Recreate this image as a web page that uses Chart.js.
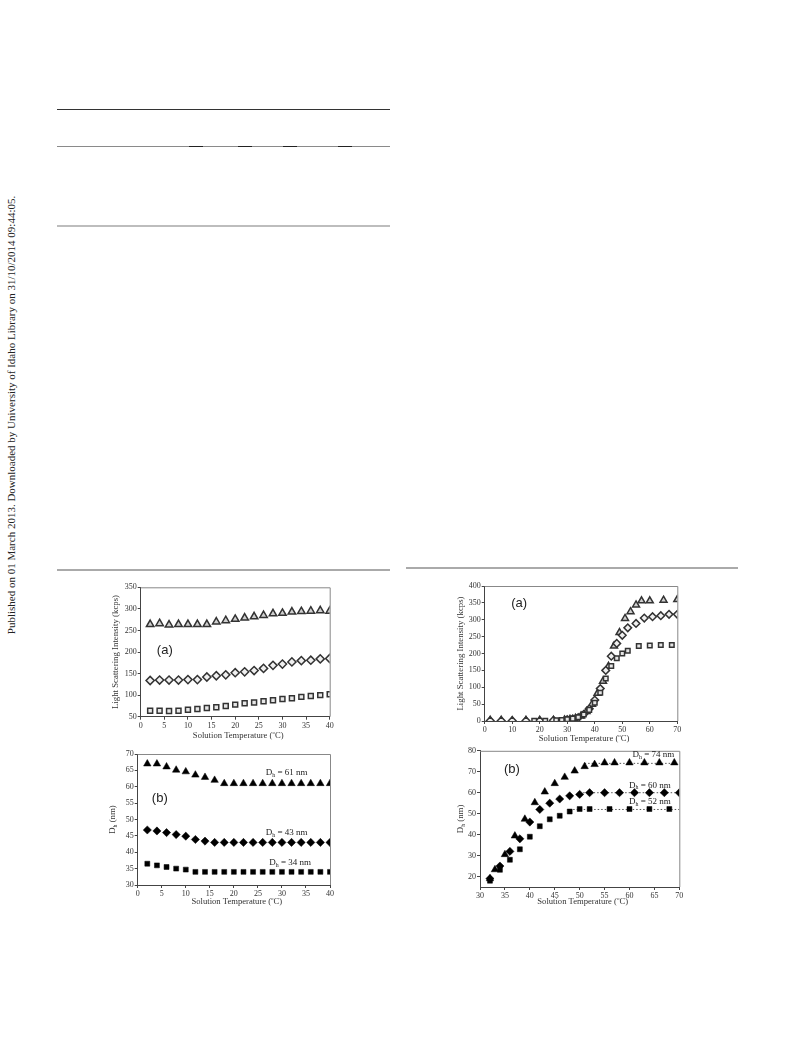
<!DOCTYPE html>
<html>
<head>
<meta charset="utf-8">
<script src="https://cdn.jsdelivr.net/npm/chart.js@4.4.0/dist/chart.umd.min.js"></script>
<style>
  body { margin: 0; width: 793px; height: 1039px; position: relative; background: #fff; overflow: hidden; font-family: "Liberation Serif", serif; }
  .rule { position: absolute; }
  canvas { position: absolute; }
  #side { position: absolute; left: 11px; top: 415px; transform: translate(-50%, -50%) rotate(-90deg); white-space: nowrap; font-size: 11px; color: #222; }
</style>
</head>
<body>
<div class="rule" style="left:57px; top:109px; width:333px; height:1px; background:#333;"></div>
<div class="rule" style="left:57px; top:146px; width:333px; height:1px; background:#8a8a8a;"></div>
<div class="rule" style="left:189px; top:146px; width:14px; height:1px; background:#222;"></div>
<div class="rule" style="left:238px; top:146px; width:14px; height:1px; background:#222;"></div>
<div class="rule" style="left:283px; top:146px; width:14px; height:1px; background:#222;"></div>
<div class="rule" style="left:338px; top:146px; width:14px; height:1px; background:#222;"></div>
<div class="rule" style="left:57px; top:225px; width:333px; height:2px; background:#bdbdbd;"></div>
<div class="rule" style="left:57px; top:569px; width:333px; height:2px; background:#aaa;"></div>
<div class="rule" style="left:406px; top:567px; width:332px; height:2px; background:#aaa;"></div>
<div id="side">Published on 01 March 2013. Downloaded by University of Idaho Library on 31/10/2014 09:44:05.</div>

<canvas id="c1" width="245" height="170" style="left:95px; top:578px;"></canvas>
<canvas id="c2" width="245" height="170" style="left:95px; top:745px;"></canvas>
<canvas id="c3" width="250" height="170" style="left:440px; top:576px;"></canvas>
<canvas id="c4" width="250" height="170" style="left:440px; top:745px;"></canvas>

<script>
// ---- left figure: 2-40 C ----
var tempLow = [2, 4, 6, 8, 10, 12, 14, 16, 18, 20, 22, 24, 26, 28, 30, 32, 34, 36, 38, 40];
var lsTriLow = [264, 266, 263, 264, 264, 264, 264, 270, 273, 276, 279, 282, 285, 289, 290, 293, 294, 295, 296, 295];
var lsDiaLow = [134, 135, 135, 135, 136, 136, 142, 145, 147, 152, 154, 157, 162, 169, 172, 177, 180, 181, 184, 185];
var lsSqLow  = [64, 64, 63, 64, 66, 68, 70, 72, 75, 78, 81, 83, 86, 88, 91, 93, 96, 98, 100, 102];
var dhTriLow = [67, 67, 66.1, 65.1, 64.6, 63.6, 62.9, 62, 61, 61, 61, 61, 61, 61, 61, 61, 61, 61, 61, 61];
var dhDiaLow = [46.8, 46.5, 46, 45.4, 44.9, 43.9, 43.4, 43, 43, 43, 43, 43, 43, 43, 43, 43, 43, 43, 43, 43];
var dhSqLow  = [36.5, 36, 35.5, 35, 34.7, 34, 34, 34, 34, 34, 34, 34, 34, 34, 34, 34, 34, 34, 34, 34];
var dhLow = [61, 43, 34];

// ---- right figure: heating to 70 C ----
var tTriHigh = [2, 6, 10, 15, 20, 25, 29, 31, 33, 35, 37, 39, 41, 43, 45, 47, 49, 51, 53, 55, 57, 60, 65, 70];
var lsTriHigh = [2, 2, 1, 2, 2, 2, 3, 5, 8, 15, 28, 50, 82, 118, 162, 222, 262, 304, 324, 344, 356, 356, 358, 360];
var tDiaHigh = [2, 6, 10, 15, 20, 25, 30, 32, 34, 36, 38, 40, 42, 44, 46, 48, 50, 52, 55, 58, 61, 64, 67, 70];
var lsDiaHigh = [1, 1, 1, 1, 1, 2, 4, 6, 10, 20, 36, 62, 96, 150, 192, 230, 254, 276, 289, 305, 309, 312, 316, 316];
var tSqHigh = [18, 22, 26, 28, 30, 32, 34, 36, 38, 40, 42, 44, 46, 48, 50, 52, 56, 60, 64, 68];
var lsSqHigh = [1, 1, 2, 3, 5, 7, 11, 19, 33, 54, 84, 126, 163, 186, 200, 208, 222, 224, 225, 225];

var tDhTri = [32, 33, 35, 37, 39, 41, 43, 45, 47, 49, 51, 53, 55, 57, 60, 63, 66, 69];
var dhTriHigh = [19, 23.3, 30.5, 39.4, 47.4, 55.3, 60.4, 64.4, 67.4, 70.4, 72.5, 73.5, 74.3, 74.3, 74.3, 74.3, 74.3, 74.3];
var tDhDia = [32, 34, 36, 38, 40, 42, 44, 46, 48, 50, 52, 55, 58, 61, 64, 67, 70];
var dhDiaHigh = [19, 25, 32, 38, 46, 52, 55, 57, 58.5, 59.2, 60, 60, 60, 60, 60, 60, 60];
var tDhSq = [32, 34, 36, 38, 40, 42, 44, 46, 48, 50, 52, 56, 60, 64, 68];
var dhSqHigh = [18, 23.2, 28, 33, 39, 44, 47.3, 49, 51, 52.2, 52.2, 52.2, 52.2, 52.2, 52.2];
var dhHigh = [74, 60, 52];
var plateauFrom = [51, 50, 48];

var ticksT40 = [0, 5, 10, 15, 20, 25, 30, 35, 40];
var ticksLs350 = [50, 100, 150, 200, 250, 300, 350];
var ticksDh70 = [30, 35, 40, 45, 50, 55, 60, 65, 70];
var ticksT70 = [0, 10, 20, 30, 40, 50, 60, 70];
var ticksLs400 = [0, 50, 100, 150, 200, 250, 300, 350, 400];
var ticksT3070 = [30, 35, 40, 45, 50, 55, 60, 65, 70];
var ticksDh80 = [20, 30, 40, 50, 60, 70, 80];

var SERIF = '"Liberation Serif", "Times New Roman", serif';

function pts(xs, ys) { return xs.map(function (x, i) { return { x: x, y: ys[i] }; }); }

function drawRich(ctx, parts, x, y) {
  var w = 0;
  parts.forEach(function (p) { ctx.font = p.size + 'px ' + SERIF; w += ctx.measureText(p.t).width; });
  var cx = x - w / 2;
  ctx.textBaseline = 'middle';
  ctx.textAlign = 'left';
  parts.forEach(function (p) {
    ctx.font = p.size + 'px ' + SERIF;
    ctx.fillText(p.t, cx, y + (p.dy || 0));
    cx += ctx.measureText(p.t).width;
  });
}
function dhParts(rest, size) {
  return [{ t: 'D', size: size }, { t: 'h', size: size * 0.65, dy: size * 0.3 }, { t: rest, size: size }];
}

var decor = {
  id: 'decor',
  afterDraw: function (chart, args, o) {
    var ctx = chart.ctx, a = chart.chartArea, sx = chart.scales.x, sy = chart.scales.y;
    ctx.save();
    ctx.strokeStyle = '#888';
    ctx.lineWidth = 1;
    ctx.beginPath();
    ctx.moveTo(a.left, a.top + 0.5);
    ctx.lineTo(a.right + 0.5, a.top + 0.5);
    ctx.lineTo(a.right + 0.5, a.bottom);
    ctx.stroke();
    ctx.fillStyle = '#333';
    drawRich(ctx, [{ t: 'Solution Temperature (', size: 8.6 }, { t: 'o', size: 5, dy: -3 }, { t: 'C)', size: 8.6 }],
      (a.left + a.right) / 2 + 3, a.bottom + o.xTitleGap);
    ctx.save();
    ctx.translate(a.left - o.yTitleGap, (a.top + a.bottom) / 2);
    ctx.rotate(-Math.PI / 2);
    drawRich(ctx, o.yTitle, 0, 0);
    ctx.restore();
    ctx.fillStyle = '#222';
    ctx.font = '13px "Liberation Sans", Arial, sans-serif';
    ctx.textAlign = 'center';
    ctx.textBaseline = 'middle';
    ctx.fillText(o.panel.text, sx.getPixelForValue(o.panel.x), sy.getPixelForValue(o.panel.y));
    (o.notes || []).forEach(function (n) {
      ctx.fillStyle = '#222';
      drawRich(ctx, dhParts(' = ' + n.v + ' nm', 9), sx.getPixelForValue(n.x), sy.getPixelForValue(n.y));
    });
    ctx.restore();
  }
};

function makeChart(id, c) {
  var axis = function (min, max, ticks, isX) {
    return {
      type: 'linear', min: min, max: max,
      afterBuildTicks: function (s) { s.ticks = ticks.map(function (v) { return { value: v }; }); },
      afterFit: function (s) { if (isX) s.height = c.xH; else s.width = c.yW; },
      grid: { drawOnChartArea: false, drawTicks: true, tickLength: 3, color: '#444' },
      border: { color: '#444', width: 1 },
      ticks: { font: { family: SERIF, size: 8 }, color: '#333', padding: 1, maxRotation: 0, autoSkip: false }
    };
  };
  return new Chart(document.getElementById(id).getContext('2d'), {
    type: 'scatter',
    data: { datasets: c.datasets },
    options: {
      responsive: false, animation: false,
      layout: { autoPadding: false, padding: { top: c.padT, right: c.padR, left: 0, bottom: 0 } },
      plugins: { legend: { display: false }, tooltip: { enabled: false }, decor: c.decor },
      scales: { x: axis(c.x[0], c.x[1], c.xt, true), y: axis(c.y[0], c.y[1], c.yt, false) }
    },
    plugins: [decor]
  });
}

function openSet(xs, ys, style, r, fill) {
  return { data: pts(xs, ys), pointStyle: style, pointRadius: r, backgroundColor: fill, borderColor: '#333', borderWidth: 1.5, order: 0 };
}
function solidSet(xs, ys, style, r) {
  return { data: pts(xs, ys), pointStyle: style, pointRadius: r, backgroundColor: '#000', borderColor: '#000', borderWidth: 0.5, order: 0 };
}

var lsTitle = [{ t: 'Light Scattering Intensity (kcps)', size: 8.8 }];
var dhTitle = dhParts(' (nm)', 8.8);

makeChart('c1', {
  x: [0, 40], y: [50, 350], xt: ticksT40, yt: ticksLs350,
  padT: 9.3, padR: 10.3, yW: 45.7, xH: 31.3,
  datasets: [
    openSet(tempLow, lsTriLow, 'triangle', 4.3, '#cfcfcf'),
    openSet(tempLow, lsDiaLow, 'rectRot', 4.1, '#f0f0f0'),
    openSet(tempLow, lsSqLow, 'rect', 3.5, '#e6e6e6')
  ],
  decor: { xTitleGap: 19, yTitleGap: 25, yTitle: lsTitle, panel: { text: '(a)', x: 5.1, y: 203 } }
});

makeChart('c2', {
  x: [0, 40], y: [30, 70], xt: ticksT40, yt: ticksDh70,
  padT: 9, padR: 10, yW: 42.7, xH: 30,
  datasets: [
    solidSet(tempLow, dhTriLow, 'triangle', 4.3),
    solidSet(tempLow, dhDiaLow, 'rectRot', 4.1),
    solidSet(tempLow, dhSqLow, 'rect', 3.5)
  ],
  decor: {
    xTitleGap: 17, yTitleGap: 25, yTitle: dhTitle, panel: { text: '(b)', x: 4.6, y: 56.5 },
    notes: [{ v: dhLow[0], x: 31, y: 64.3 }, { v: dhLow[1], x: 31, y: 46.1 }, { v: dhLow[2], x: 31.7, y: 36.9 }]
  }
});

makeChart('c3', {
  x: [0, 70], y: [0, 400], xt: ticksT70, yt: ticksLs400,
  padT: 10, padR: 12.7, yW: 44.7, xH: 25,
  datasets: [
    openSet(tSqHigh, lsSqHigh, 'rect', 3.2, '#e6e6e6'),
    openSet(tDiaHigh, lsDiaHigh, 'rectRot', 3.8, '#f0f0f0'),
    openSet(tTriHigh, lsTriHigh, 'triangle', 4, '#cfcfcf')
  ],
  decor: { xTitleGap: 17.5, yTitleGap: 24, yTitle: lsTitle, panel: { text: '(a)', x: 12.5, y: 349 } }
});

function plateau(i) {
  return { data: pts([plateauFrom[i], 70], [dhHigh[i], dhHigh[i]]), showLine: true, pointRadius: 0,
    borderColor: '#555', borderWidth: 1, borderDash: [1.5, 2], order: 1 };
}

makeChart('c4', {
  x: [30, 70], y: [15, 80], xt: ticksT3070, yt: ticksDh80,
  padT: 5.7, padR: 10.7, yW: 40, xH: 28,
  datasets: [
    solidSet(tDhSq, dhSqHigh, 'rect', 3.5),
    solidSet(tDhDia, dhDiaHigh, 'rectRot', 4.1),
    solidSet(tDhTri, dhTriHigh, 'triangle', 4.3),
    plateau(0), plateau(1), plateau(2)
  ],
  decor: {
    xTitleGap: 15, yTitleGap: 19, yTitle: dhTitle, panel: { text: '(b)', x: 36.4, y: 71.3 },
    notes: [{ v: dhHigh[0], x: 64.8, y: 78 }, { v: dhHigh[1], x: 64.1, y: 63.6 }, { v: dhHigh[2], x: 64.1, y: 55.7 }]
  }
});
</script>
</body>
</html>
